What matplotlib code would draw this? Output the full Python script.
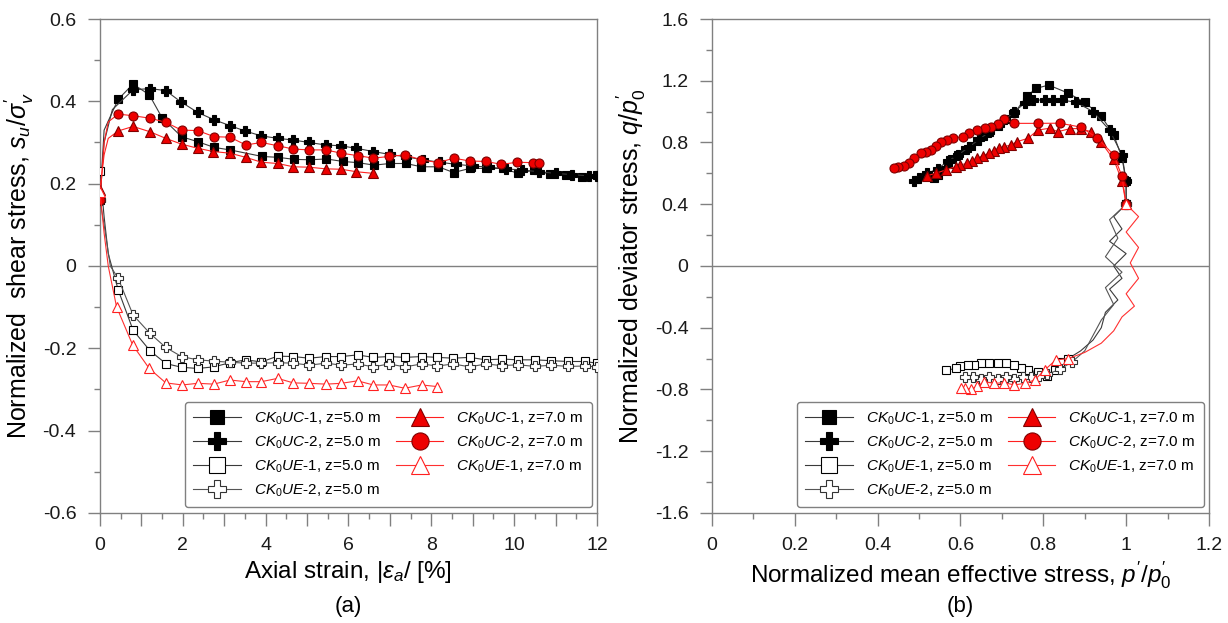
import numpy as np
import matplotlib
matplotlib.use('Agg')
import matplotlib.pyplot as plt

plt.rcParams['font.family'] = ['Liberation Sans', 'DejaVu Sans']
plt.rcParams['mathtext.fontset'] = 'custom'
plt.rcParams['mathtext.rm'] = 'Liberation Sans'
plt.rcParams['mathtext.it'] = 'Liberation Sans:italic'
plt.rcParams['mathtext.bf'] = 'Liberation Sans:bold'

# ---- panel (a): normalized shear stress vs axial strain ----
# compression, z=5.0 m
uc1_5_x = [0, 0.1, 0.44, 0.80, 1.19, 1.5, 1.97, 2.36, 2.76, 3.14, 3.92, 4.30, 4.69, 5.07, 5.47, 5.86,
           6.23, 6.62, 7.0, 7.39, 7.76, 8.17, 8.54, 8.93, 9.32, 9.72, 10.1, 10.48, 10.86, 11.25, 11.63, 12.0]
uc1_5_y = [0.16, 0.33, 0.405, 0.442, 0.416, 0.36, 0.314, 0.302, 0.288, 0.282, 0.266, 0.264, 0.259, 0.258,
           0.26, 0.254, 0.251, 0.245, 0.249, 0.249, 0.241, 0.241, 0.227, 0.237, 0.237, 0.237, 0.225, 0.233,
           0.223, 0.221, 0.216, 0.22]
uc2_5_x = [0, 0.1, 0.3, 0.80, 1.21, 1.59, 1.95, 2.36, 2.76, 3.14, 3.5, 3.9, 4.3, 4.67, 5.05, 5.45, 5.81,
           6.19, 6.6, 7.0, 7.4, 7.8, 8.2, 8.6, 9.0, 9.4, 9.8, 10.2, 10.6, 11.0, 11.4, 11.8, 12.0]
uc2_5_y = [0.16, 0.30, 0.38, 0.428, 0.431, 0.426, 0.399, 0.373, 0.355, 0.341, 0.328, 0.316, 0.310, 0.306,
           0.300, 0.294, 0.292, 0.286, 0.278, 0.271, 0.265, 0.258, 0.252, 0.247, 0.243, 0.240, 0.236, 0.233,
           0.229, 0.225, 0.222, 0.219, 0.218]
# extension, z=5.0 m
ue1_5_x = [0, 0.1, 0.2, 0.44, 0.80, 1.21, 1.59, 1.97, 2.36, 2.75, 3.14, 3.52, 3.9, 4.29, 4.67, 5.05, 5.46,
           5.83, 6.22, 6.6, 6.98, 7.36, 7.77, 8.15, 8.53, 8.93, 9.32, 9.7, 10.1, 10.5, 10.9, 11.3, 11.7, 12.0]
ue1_5_y = [0.23, 0.12, 0.03, -0.058, -0.156, -0.206, -0.237, -0.246, -0.249, -0.245, -0.235, -0.228, -0.233,
           -0.219, -0.220, -0.224, -0.220, -0.220, -0.216, -0.222, -0.220, -0.222, -0.220, -0.222, -0.224,
           -0.222, -0.228, -0.226, -0.228, -0.228, -0.230, -0.232, -0.232, -0.236]
ue2_5_x = [0, 0.1, 0.25, 0.44, 0.80, 1.21, 1.59, 1.97, 2.36, 2.75, 3.14, 3.52, 3.9, 4.29, 4.67, 5.05, 5.46,
           5.83, 6.22, 6.6, 6.98, 7.36, 7.77, 8.15, 8.53, 8.93, 9.32, 9.7, 10.1, 10.5, 10.9, 11.3, 11.7, 12.0]
ue2_5_y = [0.16, 0.10, 0.0, -0.03, -0.119, -0.164, -0.198, -0.220, -0.228, -0.231, -0.234, -0.236, -0.236,
           -0.235, -0.236, -0.241, -0.236, -0.241, -0.238, -0.245, -0.238, -0.245, -0.238, -0.243, -0.238,
           -0.245, -0.238, -0.242, -0.240, -0.244, -0.241, -0.244, -0.243, -0.245]
# compression, z=7.0 m
uc1_7_x = [0, 0.1, 0.2, 0.44, 0.80, 1.21, 1.59, 1.97, 2.36, 2.74, 3.14, 3.52, 3.9, 4.29, 4.67, 5.05, 5.45,
           5.83, 6.19, 6.6]
uc1_7_y = [0.185, 0.27, 0.31, 0.328, 0.339, 0.326, 0.310, 0.296, 0.286, 0.278, 0.274, 0.264, 0.252, 0.249,
           0.241, 0.240, 0.236, 0.235, 0.229, 0.225]
uc2_7_x = [0, 0.1, 0.2, 0.44, 0.80, 1.21, 1.59, 1.97, 2.36, 2.76, 3.14, 3.52, 3.9, 4.3, 4.67, 5.05, 5.45,
           5.83, 6.23, 6.6, 6.98, 7.36, 7.76, 8.17, 8.54, 8.93, 9.32, 9.69, 10.08, 10.46, 10.6]
uc2_7_y = [0.16, 0.30, 0.35, 0.369, 0.365, 0.359, 0.349, 0.330, 0.329, 0.314, 0.313, 0.294, 0.300, 0.292,
           0.284, 0.282, 0.282, 0.274, 0.268, 0.262, 0.266, 0.270, 0.258, 0.251, 0.262, 0.255, 0.254, 0.247,
           0.252, 0.251, 0.250]
# extension, z=7.0 m
ue1_7_x = [0, 0.1, 0.2, 0.40, 0.79, 1.19, 1.59, 1.99, 2.36, 2.75, 3.14, 3.52, 3.9, 4.29, 4.67, 5.05, 5.46,
           5.83, 6.22, 6.6, 6.98, 7.36, 7.77, 8.15]
ue1_7_y = [0.18, 0.08, 0.0, -0.099, -0.192, -0.249, -0.284, -0.289, -0.285, -0.287, -0.277, -0.281, -0.281,
           -0.273, -0.284, -0.285, -0.287, -0.285, -0.279, -0.289, -0.289, -0.297, -0.289, -0.293]

# ---- panel (b): normalized deviator stress vs mean effective stress ----
uc1_5_p = [1.0, 1.0, 0.99, 0.97, 0.94, 0.90, 0.86, 0.813, 0.783, 0.76, 0.73, 0.71, 0.69, 0.67, 0.655,
           0.64, 0.625, 0.61, 0.595, 0.58, 0.569, 0.555, 0.545, 0.536]
uc1_5_q = [0.40, 0.55, 0.70, 0.85, 0.97, 1.06, 1.12, 1.172, 1.151, 1.10, 0.99, 0.95, 0.91, 0.87, 0.84,
           0.81, 0.78, 0.75, 0.72, 0.69, 0.66, 0.62, 0.59, 0.568]
uc2_5_p = [1.0, 1.0, 0.99, 0.96, 0.92, 0.88, 0.845, 0.823, 0.803, 0.775, 0.755, 0.73, 0.70, 0.67, 0.645,
           0.62, 0.595, 0.57, 0.545, 0.52, 0.50, 0.488]
uc2_5_q = [0.40, 0.55, 0.72, 0.88, 1.0, 1.06, 1.075, 1.075, 1.075, 1.075, 1.054, 1.0, 0.93, 0.87, 0.82,
           0.77, 0.72, 0.68, 0.63, 0.60, 0.57, 0.553]
ue1_5_p = [1.0, 0.97, 0.99, 0.96, 1.0, 0.97, 0.99, 0.96, 0.98, 0.95, 0.94, 0.92, 0.89, 0.86, 0.84, 0.828,
           0.808, 0.787, 0.763, 0.745, 0.73, 0.71, 0.69, 0.67, 0.65, 0.633, 0.617, 0.60, 0.589, 0.566]
ue1_5_q = [0.40, 0.32, 0.24, 0.16, 0.08, 0.0, -0.08, -0.15, -0.22, -0.30, -0.40, -0.48, -0.55, -0.60,
           -0.62, -0.672, -0.711, -0.689, -0.672, -0.66, -0.641, -0.63, -0.626, -0.63, -0.631, -0.64,
           -0.641, -0.65, -0.663, -0.676]
ue2_5_p = [1.0, 0.96, 0.98, 0.95, 0.99, 0.95, 0.97, 0.94, 0.92, 0.90, 0.87, 0.84, 0.81, 0.79, 0.77, 0.75,
           0.73, 0.71, 0.69, 0.67, 0.65, 0.63, 0.61]
ue2_5_q = [0.40, 0.30, 0.18, 0.06, -0.04, -0.14, -0.25, -0.35, -0.45, -0.55, -0.62, -0.67, -0.70, -0.71,
           -0.72, -0.72, -0.73, -0.72, -0.73, -0.72, -0.73, -0.72, -0.72]
uc1_7_p = [1.0, 0.99, 0.97, 0.94, 0.915, 0.89, 0.865, 0.835, 0.815, 0.787, 0.763, 0.736, 0.721, 0.706,
           0.692, 0.68, 0.668, 0.654, 0.640, 0.628, 0.616, 0.60, 0.588, 0.564, 0.540, 0.52]
uc1_7_q = [0.40, 0.55, 0.69, 0.80, 0.87, 0.89, 0.89, 0.87, 0.892, 0.881, 0.827, 0.805, 0.784, 0.773,
           0.763, 0.745, 0.730, 0.715, 0.697, 0.68, 0.665, 0.655, 0.643, 0.622, 0.600, 0.585]
uc2_7_p = [1.0, 0.99, 0.97, 0.93, 0.89, 0.84, 0.787, 0.73, 0.706, 0.69, 0.674, 0.658, 0.641, 0.621,
           0.605, 0.581, 0.567, 0.553, 0.54, 0.528, 0.516, 0.504, 0.488, 0.476, 0.464, 0.45, 0.44]
uc2_7_q = [0.40, 0.58, 0.72, 0.83, 0.90, 0.925, 0.924, 0.924, 0.95, 0.92, 0.903, 0.892, 0.881, 0.859,
           0.838, 0.827, 0.815, 0.805, 0.78, 0.751, 0.74, 0.730, 0.697, 0.67, 0.645, 0.64, 0.633]
ue1_7_p = [1.0, 1.03, 1.0, 1.03, 1.01, 1.03, 1.0, 1.02, 0.99, 0.97, 0.94, 0.90, 0.86, 0.83, 0.804, 0.779,
           0.755, 0.73, 0.706, 0.682, 0.657, 0.64, 0.625, 0.61, 0.601]
ue1_7_q = [0.40, 0.32, 0.22, 0.12, 0.02, -0.08, -0.18, -0.26, -0.33, -0.42, -0.50, -0.56, -0.60, -0.609,
           -0.672, -0.739, -0.760, -0.771, -0.756, -0.760, -0.75, -0.78, -0.799, -0.79, -0.792]

labels = [r'$\mathit{CK_0UC}$-1, z=5.0 m', r'$\mathit{CK_0UC}$-2, z=5.0 m',
          r'$\mathit{CK_0UE}$-1, z=5.0 m', r'$\mathit{CK_0UE}$-2, z=5.0 m',
          r'$\mathit{CK_0UC}$-1, z=7.0 m', r'$\mathit{CK_0UC}$-2, z=7.0 m',
          r'$\mathit{CK_0UE}$-1, z=7.0 m']

# marker / line style per series, same order as labels
styles = [
    dict(color='#3a3a3a', marker='s', mfc='black', mec='black', ms=5.5),
    dict(color='#3a3a3a', marker='P', mfc='black', mec='black', ms=7),
    dict(color='#3a3a3a', marker='s', mfc='white', mec='black', ms=6),
    dict(color='#555555', marker='P', mfc='white', mec='#333333', ms=7),
    dict(color='#ff2020', marker='^', mfc='#ee0000', mec='#800000', ms=6.5),
    dict(color='#ff2020', marker='o', mfc='#ee0000', mec='#800000', ms=6.5),
    dict(color='#ff3030', marker='^', mfc='white', mec='#ff2020', ms=7),
]

GRAY = '#808080'


def style_axes(ax, xlim, ylim, xmaj, xmin, ymaj, ymin):
    ax.set_xlim(*xlim)
    ax.set_ylim(*ylim)
    ax.set_xticks(xmaj)
    ax.set_xticks(xmin, minor=True)
    ax.set_yticks(ymaj)
    ax.set_yticks(ymin, minor=True)
    for s in ax.spines.values():
        s.set_color(GRAY)
        s.set_linewidth(1.0)
    ax.tick_params(which='major', direction='out', length=9, width=1, color=GRAY, pad=8,
                   labelsize=14, labelcolor='#1a1a1a')
    ax.tick_params(which='minor', direction='out', length=4, width=1, color=GRAY)
    ax.axhline(0, color=GRAY, lw=1.0, zorder=1)


def fmt(v):
    s = ('%.1f' % v)
    if s in ('0.0', '-0.0'):
        return '0'
    if s.endswith('.0'):
        return s[:-2]
    return s


fig = plt.figure(figsize=(12.28, 6.23), dpi=100)
ax1 = fig.add_axes([0.0814, 0.1766, 0.4047, 0.7929])
ax2 = fig.add_axes([0.5798, 0.1766, 0.4047, 0.7929])

series_a = [(uc1_5_x, uc1_5_y), (uc2_5_x, uc2_5_y), (ue1_5_x, ue1_5_y), (ue2_5_x, ue2_5_y),
            (uc1_7_x, uc1_7_y), (uc2_7_x, uc2_7_y), (ue1_7_x, ue1_7_y)]
series_b = [(uc1_5_p, uc1_5_q), (uc2_5_p, uc2_5_q), (ue1_5_p, ue1_5_q), (ue2_5_p, ue2_5_q),
            (uc1_7_p, uc1_7_q), (uc2_7_p, uc2_7_q), (ue1_7_p, ue1_7_q)]

for (x, y), lab, st in zip(series_a, labels, styles):
    x = np.array(x)
    mask = (x == 0) | (x >= 0.38)
    ax1.plot(x, y, lw=0.8, markevery=list(mask), label=lab, zorder=3, mew=0.8, **st)

for i, ((p, q), lab, st) in enumerate(zip(series_b, labels, styles)):
    q = np.array(q)
    if i in (2, 3, 6):
        mask = (q < -0.58) | (q == 0.40)
    else:
        mask = q > -10
    ax2.plot(p, q, lw=0.8, markevery=list(mask), label=lab, zorder=3, mew=0.8, **st)

xt = np.arange(0, 13, 1)
yt = np.arange(-0.6, 0.61, 0.2)
style_axes(ax1, (0, 12), (-0.6, 0.6), xt, np.arange(0.5, 12, 1.0), yt, np.arange(-0.5, 0.6, 0.2))
ax1.set_xticklabels([str(v) if v % 2 == 0 else '' for v in xt])
ax1.set_yticklabels([fmt(v) for v in yt])

xb = np.arange(0, 1.21, 0.2)
yb = np.arange(-1.6, 1.61, 0.4)
style_axes(ax2, (0, 1.2), (-1.6, 1.6), xb, np.arange(0.1, 1.2, 0.2), yb, np.arange(-1.4, 1.6, 0.4))
ax2.set_xticklabels([fmt(v) for v in xb])
ax2.set_yticklabels([fmt(v) for v in yb])

ax1.set_xlabel(r"Axial strain, $|\varepsilon_a$/ [%]", fontsize=17.5)
ax1.set_ylabel(r"Normalized  shear stress, $s_u/\sigma_v^{\prime}$", fontsize=18)
ax2.set_xlabel(r"Normalized mean effective stress, $p^{\prime}/p^{\prime}_0$", fontsize=17.5)
ax2.set_ylabel(r"Normalized deviator stress, $q/p^{\prime}_0$", fontsize=18)
for ax in (ax1, ax2):
    ax.xaxis.set_label_coords(0.5, -0.094)
    ax.yaxis.set_label_coords(-0.128, 0.5)

fig.text(0.2838, 0.026, '(a)', ha='center', va='center', fontsize=16)
fig.text(0.7821, 0.026, '(b)', ha='center', va='center', fontsize=16)

for ax in (ax1, ax2):
    leg = ax.legend(ncol=2, loc='lower right', bbox_to_anchor=(0.99, 0.012), fontsize=11,
                    handlelength=3.1, labelspacing=0.5, columnspacing=1.0, handletextpad=0.85,
                    borderpad=0.55, borderaxespad=0, markerscale=1.9, fancybox=True, framealpha=1)
    leg.get_frame().set_edgecolor(GRAY)
    leg.get_frame().set_linewidth(1.0)

fig.savefig('out.png', dpi=100)
